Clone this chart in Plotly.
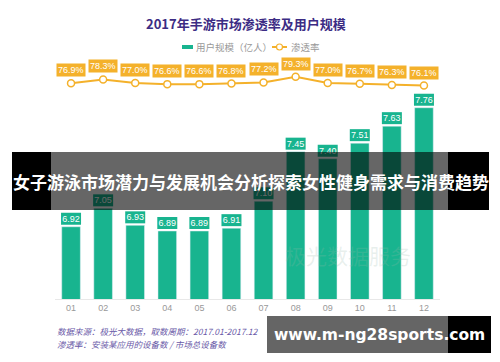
import plotly.graph_objects as go

# ---------------- data ----------------
months = ["01", "02", "03", "04", "05", "06", "07", "08", "09", "10", "11", "12"]
users = [6.92, 7.05, 6.93, 6.89, 6.89, 6.91, 7.10, 7.45, 7.40, 7.51, 7.63, 7.76]
penetration = [76.9, 78.3, 77.0, 76.6, 76.6, 76.8, 77.2, 79.3, 77.0, 76.7, 76.3, 76.1]
user_labels = [f"{v:.2f}" for v in users]
pen_labels = [f"{v:.1f}%" for v in penetration]

title_text = "2017年手游市场渗透率及用户规模"
bar_name = "用户规模（亿人）"
line_name = "渗透率"
source_1 = "数据来源：极光大数据，取数周期：2017.01-2017.12"
source_2 = "渗透率：安装某应用的设备数 / 市场总设备数"
banner_text = "女子游泳市场潜力与发展机会分析探索女性健身需求与消费趋势"
site_text = "www.m-ng28sports.com"
logo_text = "极光数据服务"

# ---------------- style ----------------
TEAL = "#18B48F"
ORANGE = "#F4B12B"
PURPLE = "#3C2C84"
CJK = "Noto Sans CJK SC, Noto Sans, sans-serif"
NUM = "Liberation Sans, Arial, sans-serif"

W, H = 500, 362
L, R, T, B = 55, 60, 60, 63
PW, PH = W - L - R, H - T - B


def px(x):
    return (x - L) / PW


def py(y):
    return (H - B - y) / PH


fig = go.Figure()
fig.add_bar(
    x=months, y=users, name=bar_name, marker_color=TEAL, width=0.58,
    text=user_labels, textposition="outside", constraintext="none",
    textfont=dict(color="white", size=9, family=NUM), cliponaxis=False,
    yaxis="y", showlegend=False,
)
fig.add_scatter(
    x=months, y=penetration, name=line_name, yaxis="y2",
    mode="lines+markers", cliponaxis=False, showlegend=False,
    line=dict(color=ORANGE, width=2),
    marker=dict(size=7, color="white", line=dict(color=ORANGE, width=1.5)),
)

shapes = []
# label boxes behind bar value text (category index positions)
for i, v in enumerate(users):
    shapes.append(dict(
        type="rect", xref="x", yref="y", layer="below",
        xsizemode="pixel", xanchor=i, x0=-10, x1=10,
        ysizemode="pixel", yanchor=v, y0=2, y1=14,
        fillcolor=TEAL, line=dict(width=0),
    ))

# legend keys
shapes += [
    dict(type="rect", xref="paper", yref="paper",
         x0=px(182), x1=px(193), y0=py(49), y1=py(45),
         fillcolor=TEAL, line=dict(width=0)),
    dict(type="line", xref="paper", yref="paper",
         x0=px(272), x1=px(287), y0=py(47), y1=py(47),
         line=dict(color=ORANGE, width=2)),
    dict(type="circle", xref="paper", yref="paper",
         x0=px(276.5), x1=px(282.5), y0=py(50), y1=py(44),
         fillcolor="white", line=dict(color=ORANGE, width=1.2)),
]

# banner overlay
shapes += [
    dict(type="rect", xref="paper", yref="paper", layer="above",
         x0=px(12), x1=px(51), y0=py(210), y1=py(152),
         fillcolor="black", line=dict(width=0)),
    dict(type="rect", xref="paper", yref="paper", layer="above",
         x0=px(448), x1=px(489), y0=py(210), y1=py(152),
         fillcolor="black", line=dict(width=0)),
    dict(type="rect", xref="paper", yref="paper", layer="above",
         x0=px(51), x1=px(448), y0=py(210), y1=py(152),
         fillcolor="rgba(0,0,0,0.6)", line=dict(width=0)),
    # site watermark
    dict(type="rect", xref="paper", yref="paper", layer="above",
         x0=px(267), x1=px(448), y0=py(353), y1=py(316),
         fillcolor="#656565", line=dict(width=0)),
    dict(type="rect", xref="paper", yref="paper", layer="above",
         x0=px(448), x1=px(491), y0=py(353), y1=py(316),
         fillcolor="black", line=dict(width=0)),
]

annotations = []
for i, (v, t) in enumerate(zip(penetration, pen_labels)):
    annotations.append(dict(
        x=i, y=v, xref="x", yref="y2", text=t, showarrow=False,
        xanchor="center", yanchor="bottom", yshift=6, bgcolor=ORANGE, borderpad=1,
        font=dict(color="white", size=9, family=NUM),
    ))


def note(x, y, text, font, xanchor="center"):
    return dict(x=px(x), y=py(y), xref="paper", yref="paper", text=text,
                showarrow=False, xanchor=xanchor, yanchor="middle", font=font)


annotations += [
    note(348, 255, logo_text, dict(size=21, color="rgba(150,185,170,0.22)", family=CJK)),
    note(246, 23, title_text, dict(size=13, color=PURPLE, family=CJK, weight="bold")),
    note(194, 47, bar_name, dict(size=9.5, color="#999999", family=CJK), "left"),
    note(289, 47, line_name, dict(size=9.5, color="#999999", family=CJK), "left"),
    note(55, 331, source_1, dict(size=8.5, color="#6A5AA8", family=CJK, style="italic"), "left"),
    note(55, 344, source_2, dict(size=8.5, color="#6A5AA8", family=CJK, style="italic"), "left"),
    note(250.5, 181, banner_text, dict(size=17, color="white", family=CJK, weight="bold")),
    note(379, 335, site_text, dict(size=15.5, color="white", family="DejaVu Sans", weight="bold")),
]

fig.update_layout(
    width=W, height=H,
    margin=dict(l=L, r=R, t=T, b=B, autoexpand=False),
    paper_bgcolor="white", plot_bgcolor="white",
    showlegend=False, hovermode=False,
    xaxis=dict(type="category", range=[-0.5, 11.5], showline=True, linecolor="#E8E8E8",
               showgrid=False, zeroline=False, ticks="",
               tickfont=dict(size=9, color="#999999", family=NUM)),
    yaxis=dict(range=[6.41, 8.097], visible=False),
    yaxis2=dict(range=[-1.5, 85.37], overlaying="y", visible=False),
    shapes=shapes, annotations=annotations,
)

fig.write_html("out.html", config={"displayModeBar": False},
               post_script="document.body.style.margin='0';")
